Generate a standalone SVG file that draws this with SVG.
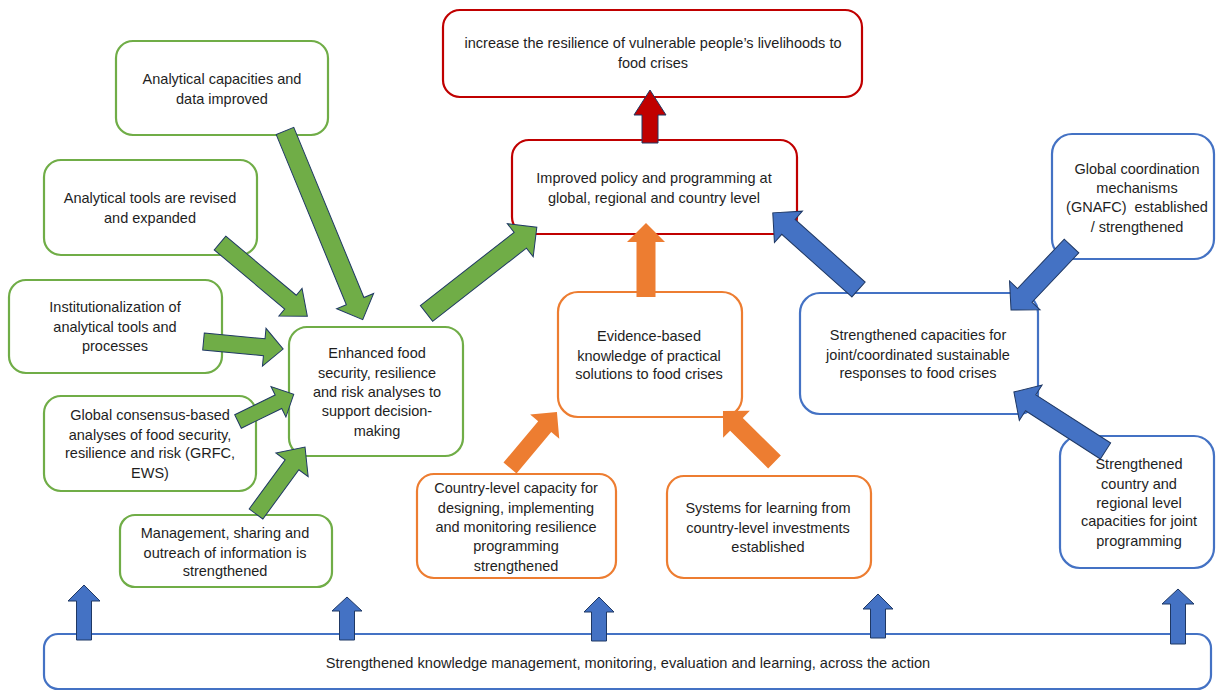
<svg xmlns="http://www.w3.org/2000/svg" width="1216" height="691" viewBox="0 0 1216 691">
  <style>
    .box { fill: #ffffff; stroke-width: 2.2; }
    .g { stroke: #70ad47; }
    .o { stroke: #ed7d31; }
    .b { stroke: #4472c4; }
    .r { stroke: #c00000; }
    text { font-family: "Liberation Sans", Arial, sans-serif; font-size: 14.5px; fill: #1e1e1e; text-anchor: middle; }
    .small { font-size: 14.6px; }
    .ag { fill: #70ad47; stroke: #1f3864; stroke-width: 1; stroke-linejoin: miter; }
    .ab { fill: #4472c4; stroke: #1f3864; stroke-width: 1; }
    .ar { fill: #c00000; stroke: #1f3864; stroke-width: 1; }
    .ao { fill: #ed7d31; stroke: none; }
  </style>

  <!-- nodes -->
  <g id="n-capacities">
    <rect class="box g" x="116" y="41" width="212" height="94" rx="17"/>
    <text x="222" y="84">Analytical capacities and</text>
    <text x="222" y="104">data improved</text>
  </g>
  <g id="n-tools">
    <rect class="box g" x="44" y="160" width="213" height="95" rx="17"/>
    <text x="150" y="203">Analytical tools are revised</text>
    <text x="150" y="223">and expanded</text>
  </g>
  <g id="n-institutional">
    <rect class="box g" x="9" y="280" width="213" height="93" rx="17"/>
    <text x="115" y="312">Institutionalization of</text>
    <text x="115" y="332">analytical tools and</text>
    <text x="115" y="351">processes</text>
  </g>
  <g id="n-consensus">
    <rect class="box g" x="44" y="396" width="212" height="95" rx="17"/>
    <text x="150" y="420">Global consensus-based</text>
    <text x="150" y="440">analyses of food security,</text>
    <text x="150" y="458">resilience and risk (GRFC,</text>
    <text x="150" y="478">EWS)</text>
  </g>
  <g id="n-management">
    <rect class="box g" x="120" y="515" width="212" height="72" rx="15"/>
    <text x="225" y="538">Management, sharing and</text>
    <text x="225" y="558">outreach of information is</text>
    <text x="225" y="576">strengthened</text>
  </g>
  <g id="n-enhanced">
    <rect class="box g" x="289" y="327" width="174" height="129" rx="18"/>
    <text x="377" y="358">Enhanced food</text>
    <text x="377" y="378">security, resilience</text>
    <text x="377" y="397">and risk analyses to</text>
    <text x="377" y="416">support decision-</text>
    <text x="377" y="436">making</text>
  </g>
  <g id="n-goal">
    <rect class="box r" x="443" y="10" width="419" height="87" rx="17"/>
    <text x="653" y="48">increase the resilience of vulnerable people’s livelihoods to</text>
    <text x="653" y="68">food crises</text>
  </g>
  <g id="n-policy">
    <rect class="box r" x="512" y="140" width="285" height="94" rx="17"/>
    <text x="654" y="183">Improved policy and programming at</text>
    <text x="654" y="203">global, regional and country level</text>
  </g>
  <g id="n-evidence">
    <rect class="box o" x="558" y="292" width="184" height="125" rx="20"/>
    <text x="649" y="341">Evidence-based</text>
    <text x="649" y="361">knowledge of practical</text>
    <text x="649" y="379">solutions to food crises</text>
  </g>
  <g id="n-country-capacity">
    <rect class="box o" x="417" y="474" width="199" height="104" rx="17"/>
    <text x="516" y="493">Country-level capacity for</text>
    <text x="516" y="513">designing, implementing</text>
    <text x="516" y="532">and monitoring resilience</text>
    <text x="516" y="551">programming</text>
    <text x="516" y="571">strengthened</text>
  </g>
  <g id="n-learning-systems">
    <rect class="box o" x="667" y="476" width="204" height="102" rx="17"/>
    <text x="768" y="513">Systems for learning from</text>
    <text x="768" y="533">country-level investments</text>
    <text x="768" y="552">established</text>
  </g>
  <g id="n-joint-responses">
    <rect class="box b" x="800" y="293" width="238" height="121" rx="20"/>
    <text x="918" y="340">Strengthened capacities for</text>
    <text x="918" y="360">joint/coordinated sustainable</text>
    <text x="918" y="378">responses to food crises</text>
  </g>
  <g id="n-coordination">
    <rect class="box b" x="1052" y="134" width="162" height="125" rx="20"/>
    <text x="1137" y="174">Global coordination</text>
    <text x="1137" y="193">mechanisms</text>
    <text x="1137" y="212">(GNAFC)&#160; established</text>
    <text x="1137" y="232">/ strengthened</text>
  </g>
  <g id="n-regional">
    <rect class="box b" x="1060" y="436" width="154" height="132" rx="20"/>
    <text x="1139" y="469">Strengthened</text>
    <text x="1139" y="489">country and</text>
    <text x="1139" y="508">regional level</text>
    <text x="1139" y="526">capacities for joint</text>
    <text x="1139" y="546">programming</text>
  </g>
  <g id="n-knowledge">
    <rect class="box b" x="44" y="634" width="1167" height="55" rx="14"/>
    <text class="small" x="628" y="668">Strengthened knowledge management, monitoring, evaluation and learning, across the action</text>
  </g>

  <!-- connectors: block arrows drawn tail at origin, pointing along +x -->
  <g id="connectors">
    <polygon class="ag" transform="translate(285,131) rotate(67.6)" points="0,-9.5 184,-9.5 184,-20 204,0 184,20 184,9.5 0,9.5"/>
    <polygon class="ag" transform="translate(220,243) rotate(40)" points="0,-9 92,-9 92,-18 114,0 92,18 92,9 0,9"/>
    <polygon class="ag" transform="translate(203.5,341.5) rotate(5.4)" points="0,-8.5 61,-8.5 61,-19 80,0 61,19 61,8.5 0,8.5"/>
    <polygon class="ag" transform="translate(238,421.5) rotate(-26)" points="0,-7.5 45,-7.5 45,-17 62,0 45,17 45,7.5 0,7.5"/>
    <polygon class="ag" transform="translate(256,514) rotate(-53.8)" points="0,-8.5 61,-8.5 61,-20 83,0 61,20 61,8.5 0,8.5"/>
    <polygon class="ag" transform="translate(426.5,313.5) rotate(-38)" points="0,-10 119,-10 119,-21 140,0 119,21 119,10 0,10"/>

    <polygon class="ar" transform="translate(650,143) rotate(-90)" points="0,-8 28,-8 28,-16 53,0 28,16 28,8 0,8"/>

    <polygon class="ao" transform="translate(646,297) rotate(-90)" points="0,-9.5 55,-9.5 55,-19 74,0 55,19 55,9.5 0,9.5"/>
    <polygon class="ao" transform="translate(510,468) rotate(-50)" points="0,-8.5 54,-8.5 54,-19 73,0 54,19 54,8.5 0,8.5"/>
    <polygon class="ao" transform="translate(774.5,462) rotate(-135.3)" points="0,-9 53.5,-9 53.5,-19 72.5,0 53.5,19 53.5,9 0,9"/>

    <polygon class="ab" transform="translate(858.5,289.5) rotate(-138.2)" points="0,-10 94,-10 94,-21 115,0 94,21 94,10 0,10"/>
    <polygon class="ab" transform="translate(1071.5,246) rotate(133.4)" points="0,-10 68,-10 68,-21 88,0 68,21 68,10 0,10"/>
    <polygon class="ab" transform="translate(1105.5,451) rotate(-147.2)" points="0,-9.5 89,-9.5 89,-21 109,0 89,21 89,9.5 0,9.5"/>

    <polygon class="ab" transform="translate(84,640) rotate(-90)" points="0,-7.5 39,-7.5 39,-16 55,0 39,16 39,7.5 0,7.5"/>
    <polygon class="ab" transform="translate(347,640) rotate(-90)" points="0,-7.5 29,-7.5 29,-15 43,0 29,15 29,7.5 0,7.5"/>
    <polygon class="ab" transform="translate(599,641) rotate(-90)" points="0,-7.5 29,-7.5 29,-15 44,0 29,15 29,7.5 0,7.5"/>
    <polygon class="ab" transform="translate(878,638) rotate(-90)" points="0,-7.5 29,-7.5 29,-15 44,0 29,15 29,7.5 0,7.5"/>
    <polygon class="ab" transform="translate(1178,644) rotate(-90)" points="0,-7.5 40,-7.5 40,-16 55,0 40,16 40,7.5 0,7.5"/>
  </g>
</svg>
